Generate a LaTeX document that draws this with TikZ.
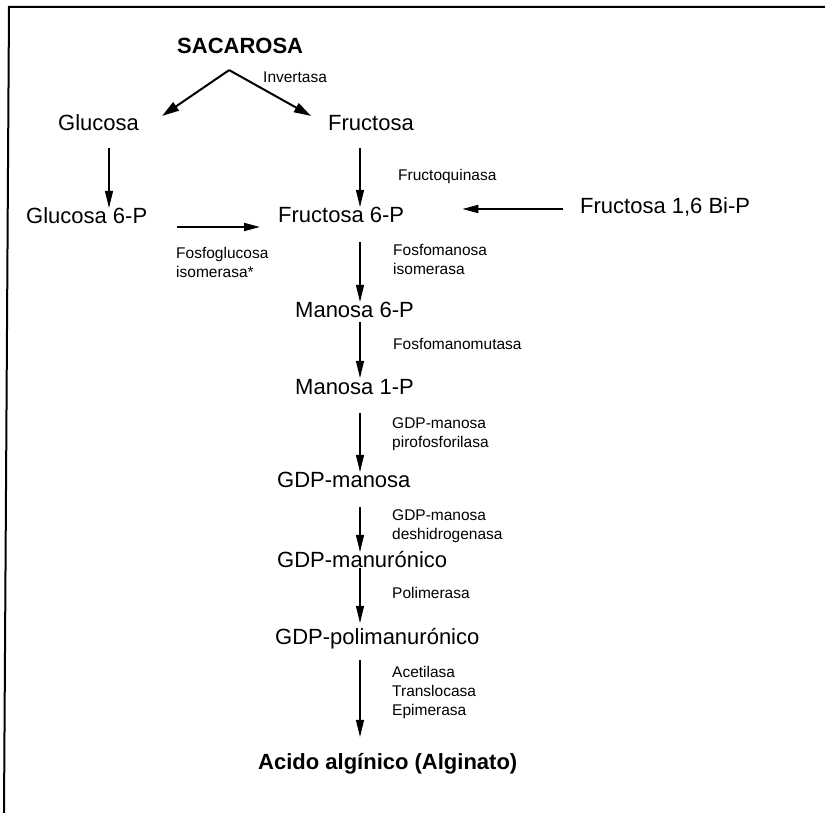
\documentclass[tikz,border=0pt]{standalone}
\usepackage{fontspec}
\setmainfont{Liberation Sans}
\usetikzlibrary{arrows.meta}
\tikzset{
  big/.style={font=\fontsize{22}{26}\selectfont, inner sep=0pt, text height=15.8pt, text depth=0pt, anchor=west},
  bigb/.style={big, font=\fontsize{22}{26}\selectfont\bfseries},
  lab/.style={font=\fontsize{15.5}{18.7}\selectfont, inner sep=0pt, anchor=north west, align=left},
  arr/.style={line width=1.1pt, -{Triangle[length=17pt,width=8pt]}},
  arrh/.style={line width=1.8pt, -{Triangle[length=16pt,width=8pt]}},
  arrd/.style={line width=2pt, -{Triangle[length=17pt,width=10pt]}},
  frameline/.style={line width=2pt},
}
\begin{document}
\begin{tikzpicture}[x=1pt,y=-1pt]
\useasboundingbox (0,0) rectangle (825,813);
% frame
\draw[frameline] (825,7) -- (9,7) -- (4,813);

% column coordinates
\coordinate (gcol) at (109,0);
\coordinate (spine) at (360,0);

% main nodes
\node[bigb] (sac) at (177,46) {SACAROSA};
\node[big] (glu) at (58,123) {Glucosa};
\node[big] (fru) at (328,123) {Fructosa};
\node[big] (glu6) at (26,216) {Glucosa 6-P};
\node[big] (fru6) at (278,215) {Fructosa 6-P};
\node[big] (fbp) at (580,206) {Fructosa 1,6 Bi-P};
\node[big] (man6) at (295,310) {Manosa 6-P};
\node[big] (man1) at (295,387) {Manosa 1-P};
\node[big] (gdpm) at (277,480) {GDP-manosa};
\node[big] (gdpu) at (277,560) {GDP-manurónico};
\node[big] (gdpp) at (275,637) {GDP-polimanurónico};
\node[bigb] (acido) at (258,762) {Acido algínico (Alginato)};

% enzyme labels
\node[lab] (inv) at (263,71.4) {Invertasa};
\node[lab] (fq) at (398,169.4) {Fructoquinasa};
\node[lab] (fgi) at (176,247.4) {Fosfoglucosa\\isomerasa*};
\node[lab] (fmi) at (393,244.4) {Fosfomanosa\\isomerasa};
\node[lab] (fmm) at (393,338.4) {Fosfomanomutasa};
\node[lab] (gpp) at (392,417.4) {GDP-manosa\\pirofosforilasa};
\node[lab] (gdh) at (392,509.4) {GDP-manosa\\deshidrogenasa};
\node[lab] (pol) at (392,587.4) {Polimerasa};
\node[lab] (ate) at (392,666.4) {Acetilasa\\Translocasa\\Epimerasa};

% invertase split
\coordinate (apex) at ([xshift=-11pt,yshift=-16pt]sac.south);
\draw[arrd] (apex) -- ([xshift=23pt,yshift=-1pt]glu.north east);
\draw[arrd] (apex) -- ([xshift=-17pt,yshift=-1pt]fru.north west);

% vertical arrows
\draw[arr, shorten <=17pt] (glu.south -| gcol) -- (glu6.north -| gcol);
\draw[arr, shorten <=17pt] (fru.south -| spine) -- (fru6.north -| spine);
\draw[arr, shorten <=19pt] (fru6.south -| spine) -- (man6.north -| spine);
\draw[arr, shorten <=4pt, shorten >=1pt] (man6.south -| spine) -- (man1.north -| spine);
\draw[arr, shorten <=18pt] (man1.south -| spine) -- (gdpm.north -| spine);
\draw[arr, shorten <=19pt] (gdpm.south -| spine) -- (gdpu.north -| spine);
\draw[arr, shorten >=6pt] (gdpu.south -| spine) -- (gdpp.north -| spine);
\draw[arr, shorten <=15pt, shorten >=17pt] (gdpp.south -| spine) -- (acido.north -| spine);

% horizontal arrows
\draw[arrh, shorten <=30pt, shorten >=18pt] ([yshift=-11pt]glu6.east) -- ([yshift=-12pt]fru6.west);
\draw[arrh, shorten <=17pt, shorten >=58pt] ([yshift=-3pt]fbp.west) -- ([yshift=6pt]fru6.east);
\end{tikzpicture}
\end{document}
